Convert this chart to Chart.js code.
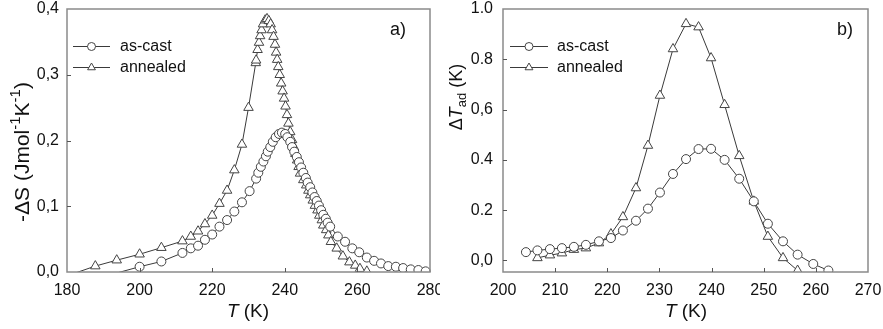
<!DOCTYPE html>
<html>
<head>
<meta charset="utf-8">
<script src="https://cdn.jsdelivr.net/npm/chart.js@4.4.1/dist/chart.umd.min.js"></script>
<style>
  html, body { margin: 0; padding: 0; background: #fff; }
  #wrap { position: relative; width: 883px; height: 329px; }
  #chartA { position: absolute; left: 0; top: 0; }
  #chartB { position: absolute; left: 440px; top: 0; }
</style>
</head>
<body>
<div id="wrap">
  <canvas id="chartA" width="440" height="329"></canvas>
  <canvas id="chartB" width="443" height="329"></canvas>
</div>
<script>
// a) -dS (J/mol K) vs T (K)
const tA_cast = [193.0, 200.0, 206.0, 211.8, 214.1, 216.1, 218.0, 220.0, 222.0, 224.1,
  226.1, 228.2, 230.3, 232.1, 232.7, 233.4, 234.1, 234.8, 235.3, 236.0,
  236.7, 237.5, 238.4, 239.2, 240.1, 240.7, 241.5, 242.0, 242.6, 243.3,
  243.9, 244.5, 245.1, 245.8, 246.3, 247.0, 247.6, 248.2, 248.8, 249.4,
  250.0, 250.6, 251.3, 251.8, 252.5, 254.6, 256.6, 258.6, 260.5, 262.6,
  264.6, 266.5, 268.5, 270.6, 272.6, 274.7, 276.8, 278.8];
const dS_cast = [-0.0026, 0.008, 0.016, 0.029, 0.036, 0.040, 0.049, 0.057, 0.069, 0.079,
  0.092, 0.106, 0.123, 0.142, 0.151, 0.160, 0.168, 0.176, 0.183, 0.190,
  0.198, 0.205, 0.210, 0.212, 0.210, 0.205, 0.198, 0.190, 0.183, 0.175,
  0.167, 0.159, 0.151, 0.143, 0.136, 0.129, 0.121, 0.114, 0.108, 0.101,
  0.094, 0.087, 0.081, 0.075, 0.069, 0.054, 0.046, 0.036, 0.030, 0.022,
  0.017, 0.013, 0.009, 0.008, 0.006, 0.004, 0.003, 0.001];

const tA_ann = [181.5, 187.8, 193.7, 200.0, 206.0, 211.8, 214.1, 216.1, 218.0, 220.0,
  222.0, 224.1, 226.1, 228.2, 230.0, 232.0, 232.1, 232.5, 232.9, 233.2,
  233.6, 234.0, 234.6, 235.1, 235.6, 236.1, 236.5, 236.9, 237.3, 237.6,
  237.9, 238.2, 238.6, 239.0, 239.4, 239.8, 240.2, 240.6, 241.0, 241.5,
  242.0, 242.5, 242.9, 243.4, 243.8, 244.2, 245.1, 245.9, 246.5, 247.0,
  247.7, 248.3, 249.0, 249.5, 250.2, 250.6, 251.4, 252.0, 252.7, 254.3,
  256.0, 257.8, 259.4, 260.7, 262.6];
const dS_ann = [-0.003, 0.009, 0.018, 0.027, 0.037, 0.047, 0.054, 0.062, 0.073, 0.086,
  0.104, 0.124, 0.155, 0.194, 0.250, 0.318, 0.322, 0.338, 0.349, 0.359,
  0.368, 0.377, 0.383, 0.385, 0.382, 0.377, 0.368, 0.358, 0.346, 0.334,
  0.323, 0.312, 0.300, 0.287, 0.275, 0.264, 0.252, 0.239, 0.226, 0.213,
  0.201, 0.190, 0.180, 0.170, 0.160, 0.150, 0.140, 0.132, 0.124, 0.117,
  0.109, 0.101, 0.094, 0.086, 0.079, 0.071, 0.064, 0.056, 0.046, 0.036,
  0.024, 0.015, 0.010, 0.005, 0.001];

// b) dT_ad (K) vs T (K)
const tB_cast = [204.4, 206.6, 209.0, 211.3, 213.6, 215.9, 218.4, 220.7, 223.0, 225.5,
  227.8, 230.1, 232.6, 235.1, 237.5, 239.9, 242.5, 245.3, 248.1, 250.8,
  253.7, 256.5, 259.5, 262.4];
const dT_cast = [0.033, 0.040, 0.045, 0.049, 0.054, 0.062, 0.076, 0.089, 0.119, 0.158,
  0.206, 0.270, 0.344, 0.403, 0.443, 0.444, 0.400, 0.325, 0.235, 0.146,
  0.076, 0.023, -0.014, -0.040];
const tB_ann = [206.6, 209.0, 211.3, 213.6, 215.9, 218.4, 220.7, 223.0, 225.5, 227.8,
  230.1, 232.6, 235.1, 237.5, 239.9, 242.5, 245.3, 248.1, 250.8, 253.7, 256.5];
const dT_ann = [0.010, 0.021, 0.029, 0.043, 0.049, 0.069, 0.105, 0.173, 0.288, 0.457,
  0.656, 0.841, 0.941, 0.928, 0.805, 0.619, 0.416, 0.235, 0.095, 0.010, -0.040];

const seriesNames = ['as-cast', 'annealed'];

const xTicksA = [180, 200, 220, 240, 260, 280];
const yTicksA = [0, 0.1, 0.2, 0.3, 0.4];
const yLabelsA = ['0,0', '0,1', '0,2', '0,3', '0,4'];
const xTicksB = [200, 210, 220, 230, 240, 250, 260, 270];
const yTicksB = [0, 0.2, 0.4, 0.6, 0.8, 1.0];
const yLabelsB = ['0,0', '0.2', '0.4', '0,6', '0.8', '1.0'];

const FONT = "'Liberation Sans', Arial, sans-serif";
const LINE = '#3a3a3a';
const FRAME = '#8a8a8a';

function pts(xs, ys) {
  return xs.map((x, i) => ({ x: x, y: ys[i] }));
}

function hideOutside(r) {
  return ctx => (ctx.raw && ctx.raw.y < ctx.chart.scales.y.min ? 0 : r);
}

function series(label, data, style, r) {
  return {
    label: label,
    data: data,
    borderColor: LINE,
    borderWidth: 1,
    pointStyle: style,
    pointRadius: hideOutside(r),
    pointBackgroundColor: '#fff',
    pointBorderColor: '#444',
    pointBorderWidth: 1,
    pointHoverRadius: hideOutside(r),
    tension: 0,
    clip: { left: 8, top: 8, right: 8, bottom: 0 }
  };
}

// draws a string made of parts (italic, sup, sub) centred on (cx, cy)
function drawRich(ctx, parts, cx, cy, size, rotate) {
  const fontOf = p => (p.it ? 'italic ' : '') + (p.sup || p.sub ? Math.round(size * 0.7) : size) + 'px ' + FONT;
  let w = 0;
  parts.forEach(p => { ctx.font = fontOf(p); w += ctx.measureText(p.t).width; });
  ctx.save();
  ctx.translate(cx, cy);
  if (rotate) ctx.rotate(-Math.PI / 2);
  ctx.fillStyle = '#111';
  ctx.textBaseline = 'middle';
  ctx.textAlign = 'left';
  let x = -w / 2;
  parts.forEach(p => {
    ctx.font = fontOf(p);
    const dy = p.sup ? -size * 0.36 : (p.sub ? size * 0.28 : 0);
    ctx.fillText(p.t, x, dy);
    x += ctx.measureText(p.t).width;
  });
  ctx.restore();
}

const decor = {
  id: 'decor',
  afterDraw(chart, args, o) {
    const ctx = chart.ctx;
    const a = chart.chartArea;
    const xs = chart.scales.x, ys = chart.scales.y;
    ctx.save();
    // frame
    ctx.strokeStyle = FRAME;
    ctx.lineWidth = 1.5;
    ctx.strokeRect(a.left, a.top, a.right - a.left, a.bottom - a.top);
    // inward ticks
    ctx.lineWidth = 1;
    ctx.strokeStyle = '#555';
    ctx.beginPath();
    o.xTicks.forEach(v => {
      const px = Math.round(xs.getPixelForValue(v)) + 0.5;
      if (px < a.left + 2 || px > a.right - 2) return;
      ctx.moveTo(px, a.bottom);
      ctx.lineTo(px, a.bottom - 4);
    });
    o.yTicks.forEach(v => {
      const py = Math.round(ys.getPixelForValue(v)) + 0.5;
      if (py < a.top + 2 || py > a.bottom - 2) return;
      ctx.moveTo(a.left, py);
      ctx.lineTo(a.left + 4, py);
    });
    ctx.stroke();
    // legend
    const lg = o.legend;
    chart.data.datasets.forEach((ds, i) => {
      const y = lg.y[i];
      ctx.strokeStyle = LINE;
      ctx.lineWidth = 1;
      ctx.beginPath();
      ctx.moveTo(lg.x0, y + 0.5);
      ctx.lineTo(lg.x1, y + 0.5);
      ctx.stroke();
      ctx.fillStyle = '#fff';
      ctx.strokeStyle = '#444';
      Chart.helpers.drawPoint(ctx, {
        pointStyle: ds.pointStyle, rotation: 0,
        radius: ds.pointStyle === 'triangle' ? 4.5 : 4, borderWidth: 1
      }, (lg.x0 + lg.x1) / 2, y + 0.5);
      ctx.fillStyle = '#111';
      ctx.font = '16px ' + FONT;
      ctx.textBaseline = 'middle';
      ctx.textAlign = 'left';
      ctx.fillText(ds.label, lg.tx, y + 1);
    });
    // panel label
    ctx.font = '18px ' + FONT;
    ctx.fillStyle = '#111';
    ctx.textBaseline = 'middle';
    ctx.textAlign = 'left';
    ctx.fillText(o.tag.t, o.tag.x, o.tag.y);
    ctx.restore();
    // axis titles
    drawRich(ctx, o.xTitle.parts, o.xTitle.cx, o.xTitle.cy, o.xTitle.size, false);
    drawRich(ctx, o.yTitle.parts, o.yTitle.cx, o.yTitle.cy, o.yTitle.size, true);
  }
};

function makeChart(id, cfg) {
  return new Chart(document.getElementById(id), {
    type: 'line',
    data: { datasets: cfg.datasets },
    options: {
      responsive: false,
      animation: false,
      events: [],
      layout: { padding: cfg.padding },
      plugins: {
        legend: { display: false },
        tooltip: { enabled: false },
        decor: cfg.decor
      },
      scales: {
        x: {
          type: 'linear',
          min: cfg.xMin, max: cfg.xMax,
          grid: { display: false, drawTicks: false },
          border: { display: false },
          afterBuildTicks: s => { s.ticks = cfg.xTicks.map(v => ({ value: v })); },
          afterFit: s => { s.height = 57; s.paddingLeft = 0; s.paddingRight = 0; },
          ticks: {
            padding: 9,
            color: '#111',
            font: { family: FONT, size: 16 },
            maxRotation: 0,
            autoSkip: false,
            callback: v => String(v)
          }
        },
        y: {
          type: 'linear',
          min: cfg.yMin, max: cfg.yMax,
          grid: { display: false, drawTicks: false },
          border: { display: false },
          afterBuildTicks: s => { s.ticks = cfg.yTicks.map(v => ({ value: v })); },
          afterFit: s => { s.width = cfg.yWidth; s.paddingTop = 0; s.paddingBottom = 0; },
          ticks: {
            padding: cfg.yPad,
            color: '#111',
            font: { family: FONT, size: 16 },
            autoSkip: false,
            callback: (v, i) => cfg.yLabels[i]
          }
        }
      }
    },
    plugins: [decor]
  });
}

makeChart('chartA', {
  datasets: [
    series(seriesNames[0], pts(tA_cast, dS_cast), 'circle', 4.5),
    series(seriesNames[1], pts(tA_ann, dS_ann), 'triangle', 5.5)
  ],
  padding: { top: 9, right: 10, bottom: 0, left: 0 },
  xMin: 180, xMax: 280, yMin: 0, yMax: 0.4,
  xTicks: xTicksA, yTicks: yTicksA, yLabels: yLabelsA,
  yWidth: 67, yPad: 8,
  decor: {
    xTicks: xTicksA, yTicks: yTicksA,
    legend: { x0: 73, x1: 110, tx: 120, y: [46, 67] },
    tag: { t: 'a)', x: 390, y: 30 },
    xTitle: { cx: 248, cy: 312, size: 19, parts: [{ t: 'T', it: true }, { t: ' (K)' }] },
    yTitle: { cx: 23, cy: 152, size: 21, parts: [{ t: '-ΔS (Jmol' }, { t: '-1', sup: true }, { t: 'K' }, { t: '-1', sup: true }, { t: ')' }] }
  }
});

makeChart('chartB', {
  datasets: [
    series(seriesNames[0], pts(tB_cast, dT_cast), 'circle', 4.5),
    series(seriesNames[1], pts(tB_ann, dT_ann), 'triangle', 5.5)
  ],
  padding: { top: 9, right: 15, bottom: 0, left: 0 },
  xMin: 200, xMax: 270, yMin: -0.046, yMax: 1.0,
  xTicks: xTicksB, yTicks: yTicksB, yLabels: yLabelsB,
  yWidth: 63, yPad: 10,
  decor: {
    xTicks: xTicksB, yTicks: yTicksB,
    legend: { x0: 70, x1: 108, tx: 117, y: [46, 67] },
    tag: { t: 'b)', x: 397, y: 30 },
    xTitle: { cx: 246, cy: 312, size: 19, parts: [{ t: 'T', it: true }, { t: ' (K)' }] },
    yTitle: { cx: 17, cy: 97, size: 18, parts: [{ t: 'Δ' }, { t: 'T', it: true }, { t: 'ad', sub: true }, { t: ' (K)' }] }
  }
});
</script>
</body>
</html>
